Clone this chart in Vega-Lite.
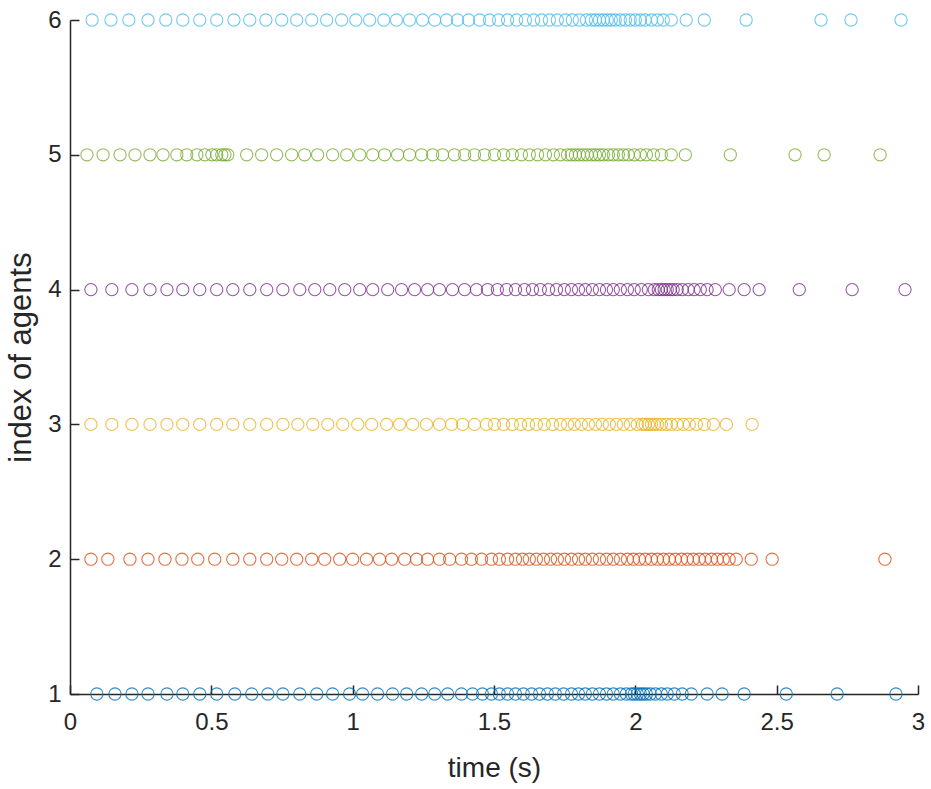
{
  "$schema": "https://vega.github.io/schema/vega-lite/v6.json",
  "width": 848,
  "height": 674,
  "autosize": {"type": "none"},
  "padding": {"left": 70, "top": 20, "right": 13, "bottom": 95},
  "background": "white",
  "config": {
    "view": {"stroke": null},
    "font": "Liberation Sans"
  },
  "data": {
    "values": [
      {"agent":6,"time":0.078},{"agent":6,"time":0.145},{"agent":6,"time":0.208},{"agent":6,"time":0.276},{"agent":6,"time":0.339},{"agent":6,"time":0.399},{"agent":6,"time":0.459},{"agent":6,"time":0.519},{"agent":6,"time":0.580},{"agent":6,"time":0.636},{"agent":6,"time":0.693},{"agent":6,"time":0.749},{"agent":6,"time":0.802},{"agent":6,"time":0.855},{"agent":6,"time":0.908},{"agent":6,"time":0.961},{"agent":6,"time":1.011},{"agent":6,"time":1.060},{"agent":6,"time":1.110},{"agent":6,"time":1.155},{"agent":6,"time":1.201},{"agent":6,"time":1.247},{"agent":6,"time":1.290},{"agent":6,"time":1.332},{"agent":6,"time":1.371},{"agent":6,"time":1.410},{"agent":6,"time":1.449},{"agent":6,"time":1.484},{"agent":6,"time":1.516},{"agent":6,"time":1.548},{"agent":6,"time":1.580},{"agent":6,"time":1.611},{"agent":6,"time":1.640},{"agent":6,"time":1.668},{"agent":6,"time":1.696},{"agent":6,"time":1.724},{"agent":6,"time":1.753},{"agent":6,"time":1.777},{"agent":6,"time":1.802},{"agent":6,"time":1.827},{"agent":6,"time":1.845},{"agent":6,"time":1.859},{"agent":6,"time":1.873},{"agent":6,"time":1.887},{"agent":6,"time":1.901},{"agent":6,"time":1.915},{"agent":6,"time":1.929},{"agent":6,"time":1.947},{"agent":6,"time":1.965},{"agent":6,"time":1.982},{"agent":6,"time":2.000},{"agent":6,"time":2.018},{"agent":6,"time":2.035},{"agent":6,"time":2.057},{"agent":6,"time":2.078},{"agent":6,"time":2.099},{"agent":6,"time":2.127},{"agent":6,"time":2.180},{"agent":6,"time":2.244},{"agent":6,"time":2.392},{"agent":6,"time":2.657},{"agent":6,"time":2.763},{"agent":6,"time":2.940},

      {"agent":5,"time":0.060},{"agent":5,"time":0.117},{"agent":5,"time":0.177},{"agent":5,"time":0.230},{"agent":5,"time":0.283},{"agent":5,"time":0.329},{"agent":5,"time":0.378},{"agent":5,"time":0.413},{"agent":5,"time":0.449},{"agent":5,"time":0.477},{"agent":5,"time":0.502},{"agent":5,"time":0.519},{"agent":5,"time":0.537},{"agent":5,"time":0.548},{"agent":5,"time":0.558},{"agent":5,"time":0.625},{"agent":5,"time":0.678},{"agent":5,"time":0.731},{"agent":5,"time":0.784},{"agent":5,"time":0.830},{"agent":5,"time":0.876},{"agent":5,"time":0.929},{"agent":5,"time":0.979},{"agent":5,"time":1.025},{"agent":5,"time":1.071},{"agent":5,"time":1.113},{"agent":5,"time":1.159},{"agent":5,"time":1.201},{"agent":5,"time":1.244},{"agent":5,"time":1.283},{"agent":5,"time":1.318},{"agent":5,"time":1.360},{"agent":5,"time":1.396},{"agent":5,"time":1.431},{"agent":5,"time":1.466},{"agent":5,"time":1.502},{"agent":5,"time":1.534},{"agent":5,"time":1.565},{"agent":5,"time":1.597},{"agent":5,"time":1.625},{"agent":5,"time":1.654},{"agent":5,"time":1.682},{"agent":5,"time":1.710},{"agent":5,"time":1.735},{"agent":5,"time":1.760},{"agent":5,"time":1.774},{"agent":5,"time":1.788},{"agent":5,"time":1.802},{"agent":5,"time":1.816},{"agent":5,"time":1.830},{"agent":5,"time":1.845},{"agent":5,"time":1.859},{"agent":5,"time":1.873},{"agent":5,"time":1.887},{"agent":5,"time":1.905},{"agent":5,"time":1.922},{"agent":5,"time":1.940},{"agent":5,"time":1.958},{"agent":5,"time":1.975},{"agent":5,"time":1.996},{"agent":5,"time":2.018},{"agent":5,"time":2.039},{"agent":5,"time":2.064},{"agent":5,"time":2.092},{"agent":5,"time":2.127},{"agent":5,"time":2.177},{"agent":5,"time":2.336},{"agent":5,"time":2.565},{"agent":5,"time":2.668},{"agent":5,"time":2.866},

      {"agent":4,"time":0.074},{"agent":4,"time":0.148},{"agent":4,"time":0.219},{"agent":4,"time":0.283},{"agent":4,"time":0.343},{"agent":4,"time":0.399},{"agent":4,"time":0.459},{"agent":4,"time":0.519},{"agent":4,"time":0.576},{"agent":4,"time":0.636},{"agent":4,"time":0.696},{"agent":4,"time":0.753},{"agent":4,"time":0.813},{"agent":4,"time":0.866},{"agent":4,"time":0.919},{"agent":4,"time":0.972},{"agent":4,"time":1.025},{"agent":4,"time":1.071},{"agent":4,"time":1.124},{"agent":4,"time":1.173},{"agent":4,"time":1.219},{"agent":4,"time":1.265},{"agent":4,"time":1.307},{"agent":4,"time":1.353},{"agent":4,"time":1.396},{"agent":4,"time":1.438},{"agent":4,"time":1.477},{"agent":4,"time":1.512},{"agent":4,"time":1.544},{"agent":4,"time":1.576},{"agent":4,"time":1.608},{"agent":4,"time":1.636},{"agent":4,"time":1.664},{"agent":4,"time":1.693},{"agent":4,"time":1.721},{"agent":4,"time":1.749},{"agent":4,"time":1.774},{"agent":4,"time":1.799},{"agent":4,"time":1.823},{"agent":4,"time":1.848},{"agent":4,"time":1.873},{"agent":4,"time":1.898},{"agent":4,"time":1.922},{"agent":4,"time":1.947},{"agent":4,"time":1.972},{"agent":4,"time":1.996},{"agent":4,"time":2.021},{"agent":4,"time":2.046},{"agent":4,"time":2.067},{"agent":4,"time":2.081},{"agent":4,"time":2.092},{"agent":4,"time":2.102},{"agent":4,"time":2.113},{"agent":4,"time":2.124},{"agent":4,"time":2.134},{"agent":4,"time":2.148},{"agent":4,"time":2.166},{"agent":4,"time":2.187},{"agent":4,"time":2.208},{"agent":4,"time":2.230},{"agent":4,"time":2.254},{"agent":4,"time":2.283},{"agent":4,"time":2.332},{"agent":4,"time":2.385},{"agent":4,"time":2.438},{"agent":4,"time":2.580},{"agent":4,"time":2.767},{"agent":4,"time":2.954},

      {"agent":3,"time":0.074},{"agent":3,"time":0.148},{"agent":3,"time":0.219},{"agent":3,"time":0.283},{"agent":3,"time":0.343},{"agent":3,"time":0.399},{"agent":3,"time":0.459},{"agent":3,"time":0.519},{"agent":3,"time":0.576},{"agent":3,"time":0.636},{"agent":3,"time":0.696},{"agent":3,"time":0.753},{"agent":3,"time":0.806},{"agent":3,"time":0.859},{"agent":3,"time":0.912},{"agent":3,"time":0.965},{"agent":3,"time":1.018},{"agent":3,"time":1.067},{"agent":3,"time":1.120},{"agent":3,"time":1.166},{"agent":3,"time":1.212},{"agent":3,"time":1.261},{"agent":3,"time":1.307},{"agent":3,"time":1.350},{"agent":3,"time":1.389},{"agent":3,"time":1.431},{"agent":3,"time":1.473},{"agent":3,"time":1.502},{"agent":3,"time":1.534},{"agent":3,"time":1.565},{"agent":3,"time":1.594},{"agent":3,"time":1.622},{"agent":3,"time":1.650},{"agent":3,"time":1.678},{"agent":3,"time":1.707},{"agent":3,"time":1.735},{"agent":3,"time":1.760},{"agent":3,"time":1.784},{"agent":3,"time":1.809},{"agent":3,"time":1.834},{"agent":3,"time":1.859},{"agent":3,"time":1.883},{"agent":3,"time":1.908},{"agent":3,"time":1.933},{"agent":3,"time":1.958},{"agent":3,"time":1.982},{"agent":3,"time":2.007},{"agent":3,"time":2.025},{"agent":3,"time":2.035},{"agent":3,"time":2.046},{"agent":3,"time":2.057},{"agent":3,"time":2.067},{"agent":3,"time":2.078},{"agent":3,"time":2.092},{"agent":3,"time":2.110},{"agent":3,"time":2.127},{"agent":3,"time":2.148},{"agent":3,"time":2.170},{"agent":3,"time":2.191},{"agent":3,"time":2.216},{"agent":3,"time":2.244},{"agent":3,"time":2.276},{"agent":3,"time":2.322},{"agent":3,"time":2.413},

      {"agent":2,"time":0.074},{"agent":2,"time":0.134},{"agent":2,"time":0.212},{"agent":2,"time":0.276},{"agent":2,"time":0.336},{"agent":2,"time":0.396},{"agent":2,"time":0.452},{"agent":2,"time":0.512},{"agent":2,"time":0.576},{"agent":2,"time":0.636},{"agent":2,"time":0.696},{"agent":2,"time":0.749},{"agent":2,"time":0.802},{"agent":2,"time":0.855},{"agent":2,"time":0.901},{"agent":2,"time":0.954},{"agent":2,"time":1.000},{"agent":2,"time":1.049},{"agent":2,"time":1.095},{"agent":2,"time":1.138},{"agent":2,"time":1.184},{"agent":2,"time":1.226},{"agent":2,"time":1.265},{"agent":2,"time":1.307},{"agent":2,"time":1.343},{"agent":2,"time":1.385},{"agent":2,"time":1.420},{"agent":2,"time":1.456},{"agent":2,"time":1.491},{"agent":2,"time":1.519},{"agent":2,"time":1.548},{"agent":2,"time":1.576},{"agent":2,"time":1.601},{"agent":2,"time":1.625},{"agent":2,"time":1.650},{"agent":2,"time":1.675},{"agent":2,"time":1.700},{"agent":2,"time":1.724},{"agent":2,"time":1.749},{"agent":2,"time":1.774},{"agent":2,"time":1.799},{"agent":2,"time":1.823},{"agent":2,"time":1.848},{"agent":2,"time":1.873},{"agent":2,"time":1.898},{"agent":2,"time":1.922},{"agent":2,"time":1.947},{"agent":2,"time":1.972},{"agent":2,"time":1.993},{"agent":2,"time":2.014},{"agent":2,"time":2.035},{"agent":2,"time":2.057},{"agent":2,"time":2.078},{"agent":2,"time":2.099},{"agent":2,"time":2.120},{"agent":2,"time":2.141},{"agent":2,"time":2.163},{"agent":2,"time":2.184},{"agent":2,"time":2.205},{"agent":2,"time":2.226},{"agent":2,"time":2.247},{"agent":2,"time":2.269},{"agent":2,"time":2.290},{"agent":2,"time":2.311},{"agent":2,"time":2.332},{"agent":2,"time":2.357},{"agent":2,"time":2.410},{"agent":2,"time":2.484},{"agent":2,"time":2.883},

      {"agent":1,"time":0.095},{"agent":1,"time":0.159},{"agent":1,"time":0.219},{"agent":1,"time":0.276},{"agent":1,"time":0.343},{"agent":1,"time":0.399},{"agent":1,"time":0.459},{"agent":1,"time":0.519},{"agent":1,"time":0.583},{"agent":1,"time":0.643},{"agent":1,"time":0.700},{"agent":1,"time":0.753},{"agent":1,"time":0.813},{"agent":1,"time":0.873},{"agent":1,"time":0.929},{"agent":1,"time":0.989},{"agent":1,"time":1.035},{"agent":1,"time":1.088},{"agent":1,"time":1.141},{"agent":1,"time":1.191},{"agent":1,"time":1.244},{"agent":1,"time":1.290},{"agent":1,"time":1.336},{"agent":1,"time":1.385},{"agent":1,"time":1.424},{"agent":1,"time":1.459},{"agent":1,"time":1.491},{"agent":1,"time":1.519},{"agent":1,"time":1.548},{"agent":1,"time":1.576},{"agent":1,"time":1.604},{"agent":1,"time":1.633},{"agent":1,"time":1.661},{"agent":1,"time":1.689},{"agent":1,"time":1.717},{"agent":1,"time":1.746},{"agent":1,"time":1.774},{"agent":1,"time":1.799},{"agent":1,"time":1.823},{"agent":1,"time":1.848},{"agent":1,"time":1.873},{"agent":1,"time":1.898},{"agent":1,"time":1.922},{"agent":1,"time":1.947},{"agent":1,"time":1.968},{"agent":1,"time":1.986},{"agent":1,"time":1.996},{"agent":1,"time":2.007},{"agent":1,"time":2.018},{"agent":1,"time":2.028},{"agent":1,"time":2.039},{"agent":1,"time":2.053},{"agent":1,"time":2.071},{"agent":1,"time":2.092},{"agent":1,"time":2.113},{"agent":1,"time":2.138},{"agent":1,"time":2.166},{"agent":1,"time":2.198},{"agent":1,"time":2.254},{"agent":1,"time":2.307},{"agent":1,"time":2.385},{"agent":1,"time":2.534},{"agent":1,"time":2.714},{"agent":1,"time":2.922}
    ]
  },
  "mark": {"type": "point", "shape": "circle", "filled": false, "size": 150, "strokeWidth": 1.1, "opacity": 0.8},
  "encoding": {
    "x": {
      "field": "time",
      "type": "quantitative",
      "scale": {"domain": [0, 3], "nice": false, "zero": false},
      "axis": {
        "title": "time (s)",
        "values": [0, 0.5, 1, 1.5, 2, 2.5, 3],
        "format": "~g",
        "grid": false,
        "labelFlush": false,
        "labelBound": false,
        "domainColor": "#262626",
        "domainWidth": 1.5,
        "tickColor": "#262626",
        "tickWidth": 1.5,
        "tickSize": -9,
        "labelPadding": 25,
        "labelFontSize": 24,
        "labelColor": "#262626",
        "labelFont": "Liberation Sans",
        "titleFontSize": 28,
        "titleFontWeight": "normal",
        "titleColor": "#262626",
        "titleFont": "Liberation Sans",
        "titlePadding": 20
      }
    },
    "y": {
      "field": "agent",
      "type": "quantitative",
      "scale": {"domain": [1, 6], "nice": false, "zero": false},
      "axis": {
        "title": "index of agents",
        "values": [1, 2, 3, 4, 5, 6],
        "grid": false,
        "labelFlush": false,
        "labelBound": false,
        "domainColor": "#262626",
        "domainWidth": 1.5,
        "tickColor": "#262626",
        "tickWidth": 1.5,
        "tickSize": -9,
        "labelPadding": 18,
        "labelFontSize": 24,
        "labelColor": "#262626",
        "labelFont": "Liberation Sans",
        "titleFontSize": 31,
        "titleFontWeight": "normal",
        "titleColor": "#262626",
        "titleFont": "Liberation Sans",
        "titlePadding": 10
      }
    },
    "color": {
      "field": "agent",
      "type": "nominal",
      "scale": {
        "domain": [1, 2, 3, 4, 5, 6],
        "range": ["#0072BD", "#D95319", "#EDB120", "#7E2F8E", "#77AC30", "#4DBEEE"]
      },
      "legend": null
    }
  }
}
